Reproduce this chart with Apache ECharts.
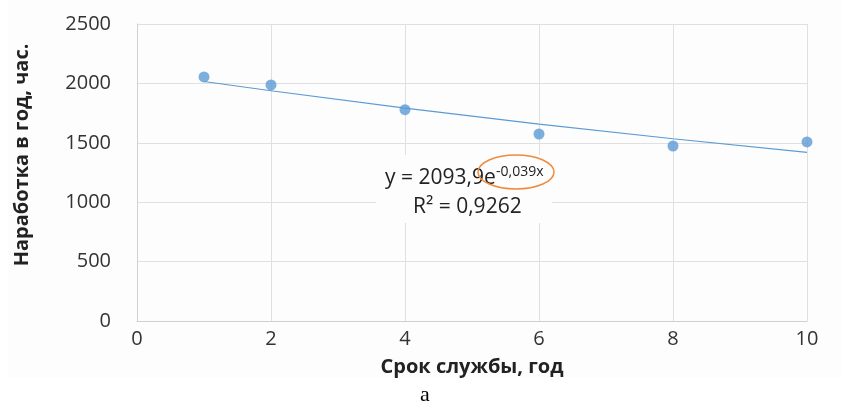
<!DOCTYPE html>
<html>
<head>
<meta charset="utf-8">
<script src="https://cdn.jsdelivr.net/npm/echarts@6/dist/echarts.min.js"></script>
<style>
  html, body { margin: 0; padding: 0; background: #fff; }
  #container { width: 841px; height: 405px; }
</style>
</head>
<body>
<div id="container"></div>
<script>
const years = [1, 2, 4, 6, 8, 10];
const hours = [2054, 1987, 1779, 1574, 1473, 1507];
// trendline
const trendYears = [1, 2, 4, 6, 8, 10];
const trendHours = [2016, 1938, 1792, 1658, 1534, 1420];
const equation = ['2093,9', '-0,039x'];
const r2 = '0,9262';
const yTitle = 'Наработка в год, час.';
const xTitle = 'Срок службы, год';

const font = '"Open Sans", sans-serif';
const blue = '#5b9bd5';

const chart = echarts.init(document.getElementById('container'));

const option = {
  backgroundColor: '#fff',
  animation: false,
  grid: { left: 137, right: 34, top: 24, bottom: 84 },
  xAxis: {
    type: 'value',
    min: 0,
    max: 10,
    interval: 2,
    name: xTitle,
    nameLocation: 'middle',
    nameGap: 36,
    nameTextStyle: { fontFamily: font, fontSize: 20, fontWeight: 'bold', color: '#222' },
    axisLine: { lineStyle: { color: '#d0d0d0', width: 1 } },
    axisTick: { show: false },
    axisLabel: { fontFamily: font, fontSize: 20, color: '#333', margin: 8 },
    splitLine: { lineStyle: { color: '#e0e0e0' } }
  },
  yAxis: {
    type: 'value',
    min: 0,
    max: 2500,
    interval: 500,
    axisLine: { show: true, lineStyle: { color: '#d0d0d0', width: 1 } },
    axisTick: { show: false },
    axisLabel: { fontFamily: font, fontSize: 20, color: '#333', margin: 26, formatter: v => String(v) },
    splitLine: { lineStyle: { color: '#e0e0e0' } }
  },
  graphic: [
    {
      type: 'rect', z: -10, silent: true,
      shape: { x: 8, y: 0, width: 833, height: 377 },
      style: { fill: '#fdfdfd' }
    },
    {
      type: 'text', silent: true,
      x: 22, y: 155, rotation: Math.PI / 2,
      style: {
        text: yTitle, fontFamily: font, fontSize: 20, fontWeight: 'bold', fill: '#222',
        align: 'center', verticalAlign: 'middle'
      }
    },
    {
      type: 'rect', z: 50, silent: true,
      shape: { x: 376, y: 155, width: 176, height: 68 },
      style: { fill: '#fdfdfd' }
    },
    {
      type: 'text', z: 51, silent: true,
      x: 385, y: 178,
      style: { text: 'y = ' + equation[0] + 'e', fontFamily: font, fontSize: 21, fill: '#222', verticalAlign: 'middle' }
    },
    {
      type: 'text', z: 51, silent: true,
      x: 496, y: 172,
      style: { text: equation[1], fontFamily: font, fontSize: 14, fill: '#222', verticalAlign: 'middle' }
    },
    {
      type: 'ellipse', z: 52, silent: true,
      shape: { cx: 516, cy: 172, rx: 38, ry: 17 },
      style: { fill: 'none', stroke: '#f08a3c', lineWidth: 1.5 }
    },
    {
      type: 'text', z: 51, silent: true,
      x: 413, y: 207,
      style: { text: 'R² = ' + r2, fontFamily: font, fontSize: 21, fill: '#222', verticalAlign: 'middle' }
    },
    {
      type: 'text', silent: true,
      x: 425, y: 395,
      style: { text: 'а', fontFamily: '"Liberation Serif", serif', fontSize: 22, fill: '#000', align: 'center', verticalAlign: 'middle' }
    }
  ],
  series: [
    {
      type: 'line',
      data: trendYears.map((x, i) => [x, trendHours[i]]),
      symbol: 'none',
      lineStyle: { color: blue, width: 1.2 },
      z: 2
    },
    {
      type: 'scatter',
      data: years.map((x, i) => [x, hours[i]]),
      symbolSize: 11,
      itemStyle: { color: blue },
      z: 3
    }
  ]
};

chart.setOption(option);
</script>
</body>
</html>
